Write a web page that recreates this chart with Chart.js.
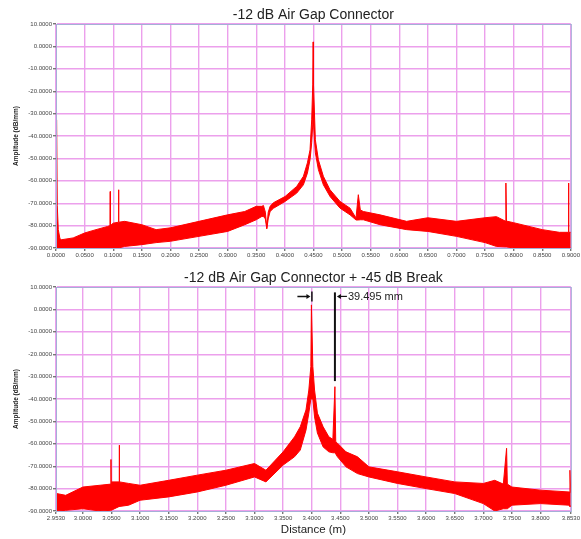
<!DOCTYPE html>
<html>
<head>
<meta charset="utf-8">
<script src="https://cdn.jsdelivr.net/npm/chart.js@4.4.1/dist/chart.umd.min.js"></script>
<style>
  html, body { margin: 0; padding: 0; background: #fff; }
  canvas { display: block; }
</style>
</head>
<body>
<canvas id="topChart" width="581" height="268"></canvas>
<canvas id="bottomChart" width="581" height="271"></canvas>
<script>
// y axis shared by both plots
const yTicks = [-90, -80, -70, -60, -50, -40, -30, -20, -10, 0, 10];

// top trace: -12 dB air gap connector (noise band read as upper/lower envelope)
const topXTicks = [0, 0.05, 0.1, 0.15, 0.2, 0.25, 0.3, 0.35, 0.4, 0.45, 0.5, 0.55, 0.6, 0.65, 0.7, 0.75, 0.8, 0.85, 0.9];
const topX = [0.0000, 0.0010, 0.0022, 0.0040, 0.0070, 0.0100, 0.0300, 0.0500, 0.0700, 0.0900, 0.0944, 0.0948, 0.0952,
  0.1000, 0.1090, 0.1094, 0.1098, 0.1200, 0.1500, 0.1750, 0.2000, 0.2500, 0.3000, 0.3300, 0.3500, 0.3600, 0.3626,
  0.3660, 0.3685, 0.3710, 0.3743, 0.3800, 0.4005, 0.4208, 0.4325, 0.4395, 0.4441, 0.4470, 0.4488, 0.4495, 0.4502,
  0.4534, 0.4587, 0.4674, 0.4790, 0.4965, 0.5140, 0.5245, 0.5285, 0.5320, 0.5373, 0.5664, 0.6130, 0.6500, 0.7000,
  0.7500, 0.7700, 0.7855, 0.7865, 0.7875, 0.8000, 0.8500, 0.8800, 0.8955, 0.8960, 0.8965, 0.9000];
const topUpper = [-70, -32.8, -71, -81.8, -86, -86.3, -85.5, -83.3, -81.8, -80.4, -80, -64.8, -80,
  -78.9, -78.5, -64, -78.5, -78.1, -79.6, -81.8, -81, -78.1, -75.2, -73.7, -71.4, -71.4, -71,
  -74, -81, -74, -71.4, -69.8, -67, -62.5, -58, -52, -46.2, -32.8, -17.2, 2, -17.2,
  -41.7, -50.6, -58, -64, -69.2, -72.2, -76.6, -66.2, -73, -73.7, -75.2, -78.1, -76.5, -78.1,
  -76.5, -76, -78, -61, -78, -78.7, -81.8, -83, -83, -61, -83, -83];
const topLower = [-90, -90, -90, -90, -90, -90, -90, -90, -90, -90, -90, -90, -90,
  -90, -90, -90, -90, -89.3, -88.5, -87.6, -87, -84.8, -82.6, -79.6, -77.4, -75.9, -75.9,
  -77, -81.5, -77, -73.7, -72.3, -69.2, -65.5, -61.8, -56.6, -50.6, -43, -35, -30, -35,
  -47.5, -55, -61.8, -67, -72.2, -75.2, -77.5, -77.5, -77.4, -77.4, -79.6, -81.8, -82.6, -84.8,
  -87.6, -89.3, -89.5, -89.5, -89.5, -90, -90, -90, -90, -90, -90, -90];

// bottom trace: connector + -45 dB break
const bottomXTicks = [2.953, 3.0, 3.05, 3.1, 3.15, 3.2, 3.25, 3.3, 3.35, 3.4, 3.45, 3.5, 3.55, 3.6, 3.65, 3.7, 3.75, 3.8, 3.853];
const bottomX = [2.9530, 2.9536, 2.9542, 2.9700, 3.0000, 3.0300, 3.0487, 3.0491, 3.0495, 3.0500, 3.0632, 3.0636, 3.0640,
  3.0800, 3.1000, 3.1500, 3.2000, 3.2500, 3.3000, 3.3200, 3.3500, 3.3700, 3.3800, 3.3900, 3.3950, 3.3985, 3.3995,
  3.4020, 3.4050, 3.4100, 3.4200, 3.4300, 3.4370, 3.4406, 3.4420, 3.4450, 3.4600, 3.4800, 3.5000, 3.5500, 3.6000,
  3.6500, 3.7000, 3.7200, 3.7350, 3.7407, 3.7420, 3.7500, 3.8000, 3.8500, 3.8515, 3.8530];
const bottomUpper = [-82, -47.2, -82.2, -83, -79.3, -78.5, -78, -67, -78, -77, -77, -60.6, -77,
  -77.7, -78.5, -76.3, -74, -71.8, -68.8, -71.8, -63.6, -56.9, -52.4, -44.9, -36, -25.5, 2,
  -25.5, -36, -46.3, -52.4, -56.9, -58, -34.5, -59, -59.7, -63.6, -65.8, -70.3, -72.5, -74.8,
  -77, -77.7, -76.3, -78, -62, -78, -79.3, -80.7, -81.5, -71.8, -82];
const bottomLower = [-89, -89, -90, -89.7, -89, -90, -89.7, -89.7, -89.7, -89.7, -88, -88, -88,
  -87.4, -85.2, -83.7, -81.5, -78.5, -74.8, -77, -69.5, -65.8, -62.8, -53.9, -46.3, -40, -40,
  -40, -48, -55.2, -61.4, -63.6, -64, -64, -64.5, -65.8, -70.3, -73.3, -74.8, -77.7, -80,
  -82.2, -86.7, -90, -89, -89, -89, -87.4, -86.7, -87.4, -88, -88];

// measurement marker on the lower plot
const markerX = [3.3995, 3.4406];
const markerLabel = '39.495 mm';

const traceRed = 'rgb(255, 0, 0)';
const gridPink = 'rgb(236, 160, 236)';
const frameBlue = 'rgb(165, 175, 215)';
const tickFont = { family: 'Liberation Sans', size: 6 };

const frameAndTitle = {
    id: 'frameAndTitle',
    afterDraw(chart, args, opts) {
        const { ctx, chartArea } = chart;
        ctx.save();
        ctx.strokeStyle = frameBlue;
        ctx.lineWidth = 1;
        ctx.strokeRect(chartArea.left + 0.5, chartArea.top + 0.5, chartArea.right - chartArea.left, chartArea.bottom - chartArea.top);
        ctx.fillStyle = '#222';
        ctx.font = '14px "Liberation Sans"';
        ctx.textAlign = 'center';
        ctx.textBaseline = 'middle';
        ctx.fillText(opts.text, (chartArea.left + chartArea.right) / 2, opts.y);
        ctx.restore();
    }
};

const marker = {
    id: 'marker',
    afterDraw(chart, args, opts) {
        if (!opts.show) return;
        const { ctx, scales } = chart;
        const x1 = scales.x.getPixelForValue(markerX[0]);
        const x2 = scales.x.getPixelForValue(markerX[1]);
        const yArrow = scales.y.getPixelForValue(5.8);
        ctx.save();
        ctx.strokeStyle = '#111';
        ctx.fillStyle = '#111';
        ctx.lineWidth = 1.5;
        // left arrow onto connector peak
        ctx.beginPath();
        ctx.moveTo(x1 - 14, yArrow);
        ctx.lineTo(x1 - 3, yArrow);
        ctx.moveTo(x1 + 0.5, yArrow - 5);
        ctx.lineTo(x1 + 0.5, yArrow + 5);
        ctx.stroke();
        ctx.beginPath();
        ctx.moveTo(x1 - 1, yArrow);
        ctx.lineTo(x1 - 5, yArrow - 2.5);
        ctx.lineTo(x1 - 5, yArrow + 2.5);
        ctx.fill();
        // long line down to the break
        ctx.lineWidth = 2;
        ctx.beginPath();
        ctx.moveTo(x2, scales.y.getPixelForValue(7.6));
        ctx.lineTo(x2, scales.y.getPixelForValue(-32));
        ctx.stroke();
        ctx.lineWidth = 1.2;
        ctx.beginPath();
        ctx.moveTo(x2 + 12, yArrow);
        ctx.lineTo(x2 + 4, yArrow);
        ctx.stroke();
        ctx.beginPath();
        ctx.moveTo(x2 + 2, yArrow);
        ctx.lineTo(x2 + 6, yArrow - 2.5);
        ctx.lineTo(x2 + 6, yArrow + 2.5);
        ctx.fill();
        ctx.font = '11px "Liberation Sans"';
        ctx.textAlign = 'left';
        ctx.textBaseline = 'middle';
        ctx.fillStyle = '#222';
        ctx.fillText(markerLabel, x2 + 13, yArrow + 0.5);
        ctx.restore();
    }
};

function makeChart(id, xs, upper, lower, xTicks, cfg) {
    return new Chart(document.getElementById(id), {
        type: 'line',
        data: {
            datasets: [
                {
                    data: xs.map((x, i) => ({ x: x, y: upper[i] })),
                    borderColor: traceRed, backgroundColor: traceRed,
                    borderWidth: 1, pointRadius: 0, tension: 0, fill: '+1'
                },
                {
                    data: xs.map((x, i) => ({ x: x, y: lower[i] })),
                    borderColor: traceRed, borderWidth: 1, pointRadius: 0, tension: 0, fill: false
                }
            ]
        },
        options: {
            responsive: false,
            animation: false,
            events: [],
            layout: { padding: { top: cfg.padTop, right: 10, left: 0, bottom: 0 } },
            plugins: {
                legend: { display: false },
                tooltip: { enabled: false },
                frameAndTitle: { text: cfg.title, y: cfg.titleY },
                marker: { show: !!cfg.marker }
            },
            scales: {
                x: {
                    type: 'linear',
                    min: xTicks[0], max: xTicks[xTicks.length - 1],
                    afterBuildTicks: s => { s.ticks = xTicks.map(v => ({ value: v })); },
                    afterFit: s => { s.height = cfg.xHeight; },
                    grid: { color: gridPink, lineWidth: 1.4, tickColor: '#777', tickLength: 3 },
                    border: { color: frameBlue },
                    ticks: {
                        font: tickFont, color: '#444', padding: 1,
                        maxRotation: 0, autoSkip: false,
                        callback: v => Number(v).toFixed(4)
                    },
                    title: cfg.xTitle
                        ? { display: true, text: cfg.xTitle, color: '#222', font: { family: 'Liberation Sans', size: 11.5 }, padding: { top: 0, bottom: 2 } }
                        : { display: false }
                },
                y: {
                    min: -90, max: 10,
                    afterBuildTicks: s => { s.ticks = yTicks.map(v => ({ value: v })); },
                    afterFit: s => { s.width = 56; },
                    grid: { color: gridPink, lineWidth: 1.4, tickColor: '#777', tickLength: 3 },
                    border: { color: frameBlue },
                    ticks: {
                        font: tickFont, color: '#444', padding: 1,
                        callback: v => Number(v).toFixed(4)
                    },
                    title: {
                        display: true, text: 'Amplitude (dB/mm)', color: '#222',
                        font: { family: 'Liberation Sans', size: 6.5, weight: 'bold' },
                        padding: { top: 12, bottom: 0 }
                    }
                }
            }
        },
        plugins: [frameAndTitle, marker]
    });
}

makeChart('topChart', topX, topUpper, topLower, topXTicks, {
    title: '-12 dB Air Gap Connector', titleY: 15, padTop: 24, xHeight: 20
});
makeChart('bottomChart', bottomX, bottomUpper, bottomLower, bottomXTicks, {
    title: '-12 dB Air Gap Connector + -45 dB Break', titleY: 10, padTop: 19, xHeight: 28,
    xTitle: 'Distance (m)', marker: true
});
</script>
</body>
</html>
